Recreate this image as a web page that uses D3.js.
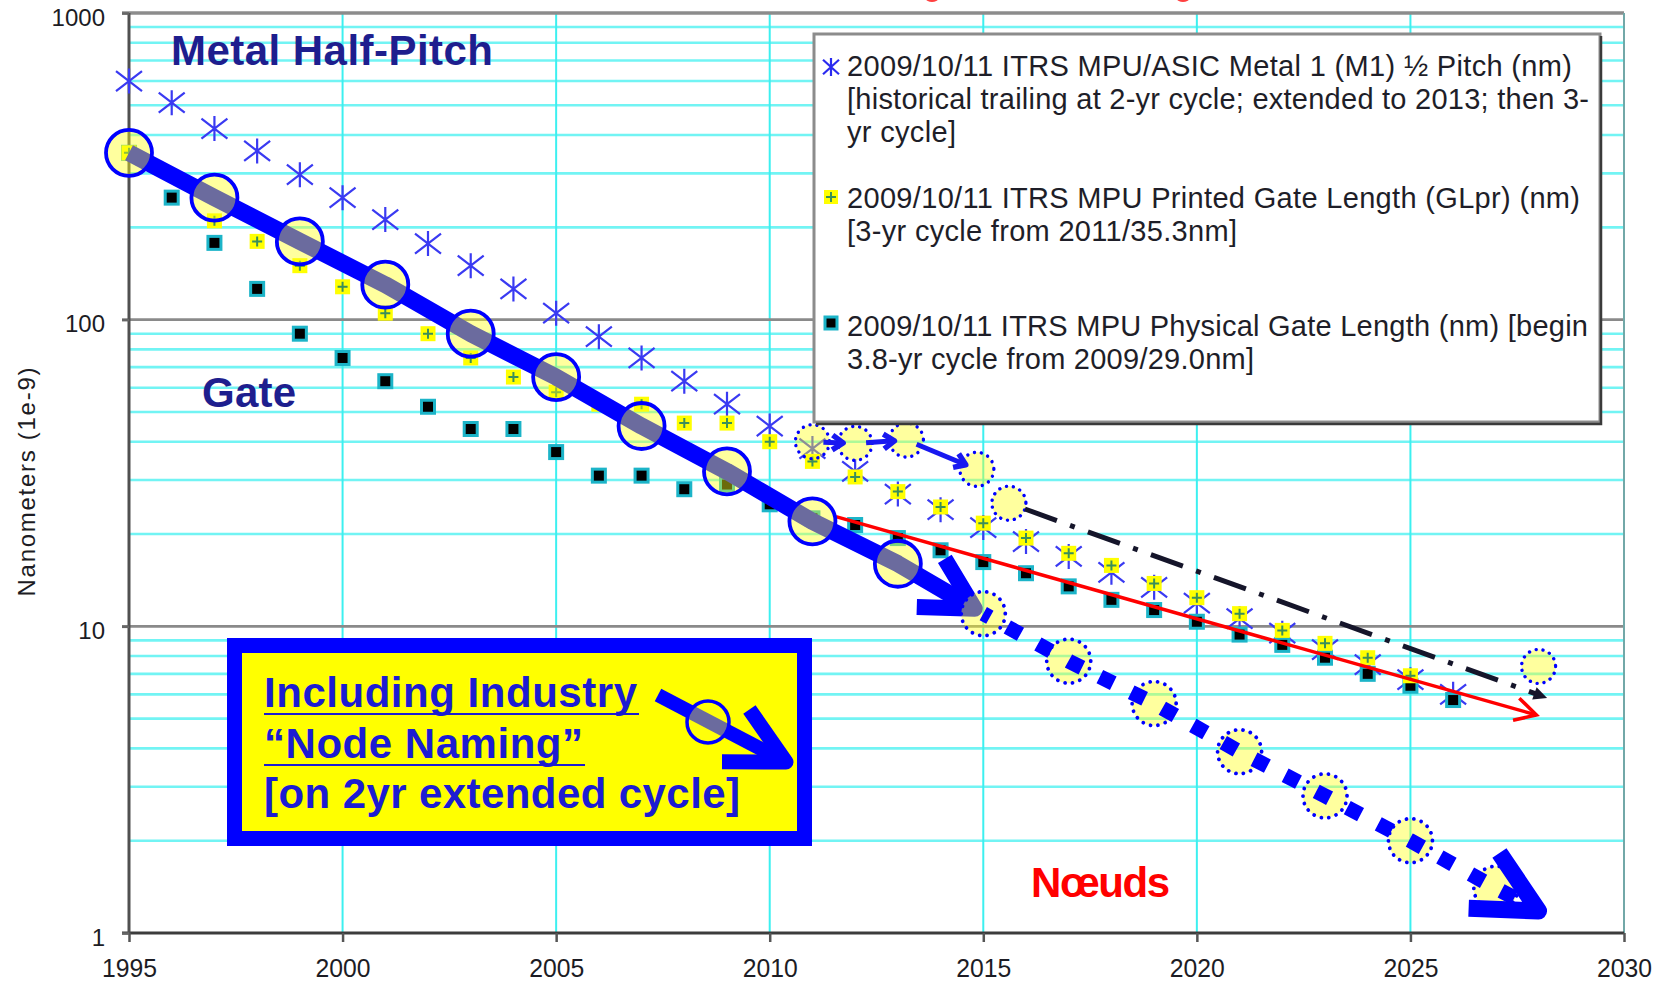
<!DOCTYPE html>
<html>
<head>
<meta charset="utf-8">
<script src="https://cdn.jsdelivr.net/npm/d3@7"></script>
<style>
  html, body { margin: 0; padding: 0; background: #ffffff; }
  svg { display: block; }
  text { font-family: "Liberation Sans", Arial, sans-serif; }
</style>
</head>
<body>
<svg id="chart" width="1661" height="984"></svg>
<script>
// ---------- axis ticks ----------
const yearTicks = [1995, 2000, 2005, 2010, 2015, 2020, 2025, 2030];
const valueTicks = [1, 10, 100, 1000];
const valueTickLabels = ["1", "10", "100", "1000"];

// ---------- ITRS MPU/ASIC Metal 1 half pitch (nm) ----------
const m1Years = [1995, 1996, 1997, 1998, 1999, 2000, 2001, 2002, 2003, 2004, 2005, 2006, 2007, 2008, 2009, 2010,
                 2011, 2012, 2013, 2014, 2015, 2016, 2017, 2018, 2019, 2020, 2021, 2022, 2023, 2024, 2025, 2026];
const m1HalfPitch = [600, 510, 420, 355, 297, 250, 212, 177, 150, 126, 105, 88, 75, 63, 53, 45,
                     38, 32, 27, 24, 21, 18.9, 16.9, 15, 13.4, 11.9, 10.6, 9.5, 8.4, 7.5, 6.7, 6.0];

// ---------- ITRS MPU printed gate length (nm) ----------
const printedYears = [1995, 1997, 1998, 1999, 2000, 2001, 2002, 2003, 2004, 2005, 2006, 2007, 2008, 2009, 2010,
                      2011, 2012, 2013, 2014, 2015, 2016, 2017, 2018, 2019, 2020, 2021, 2022, 2023, 2024, 2025];
const printedGate = [350, 210, 180, 150, 128, 105, 90, 75, 65, 58, 53, 53, 46, 46, 40,
                     34.5, 30.7, 27.5, 24.5, 21.7, 19.4, 17.3, 15.8, 13.8, 12.4, 11.0, 9.7, 8.8, 7.9, 6.9];

// ---------- ITRS MPU physical gate length (nm) ----------
const physYears = [1995, 1996, 1997, 1998, 1999, 2000, 2001, 2002, 2003, 2004, 2005, 2006, 2007, 2008, 2009, 2010,
                   2011, 2012, 2013, 2014, 2015, 2016, 2017, 2018, 2019, 2020, 2021, 2022, 2023, 2024, 2025, 2026];
const physGate = [350, 250, 178, 126, 90, 75, 63, 52, 44, 44, 37, 31, 31, 28, 29, 25,
                  22.5, 21.4, 19.4, 17.7, 16.2, 14.9, 13.5, 12.2, 11.3, 10.35, 9.4, 8.7, 7.9, 7.0, 6.4, 5.75];

// ---------- industry "node naming" on a 2-year cycle ----------
const nodeYears = [1995, 1997, 1999, 2001, 2003, 2005, 2007, 2009, 2011, 2013];
const nodeValues = [350, 250, 180, 130, 90, 65, 45, 32, 22, 16];
const futureNodeYears = [2015, 2017, 2019, 2021, 2023, 2025, 2027];
const futureNodeValues = [11, 7.7, 5.6, 3.9, 2.8, 2.0, 1.4];
const futureArrowTip = [2028, 1.18];

// ---------- M1 pitch held at 2-yr cycle to 2013, then 3-yr cycle ----------
const extYears = [2011, 2012, 2013.2, 2014.85, 2015.6];
const extValues = [40, 39.5, 40.5, 32.5, 25.2];
const trendTip = [2028.2, 5.84];
const trendCircle = [2028, 7.4];

// ---------- gate-length trend arrow ----------
const redStart = [2011.55, 22.8];
const redEnd = [2027.95, 5.14];

// ---------- scales ----------
const svg = d3.select("#chart");
const x = d3.scaleLinear().domain([1995, 2030]).range([129, 1624]);
const y = d3.scaleLog().domain([1, 1000]).range([933, 13]);
const P = (yr, v) => [x(yr), y(v)];

const BLUE = "#0000ff";
const CIRCLE_FILL = "#ffff18";
const CIRCLE_OPACITY = 0.42;

function chevron(tip, theta, L, phi) {
  const a1 = [tip[0] - L * Math.cos(theta - phi), tip[1] - L * Math.sin(theta - phi)];
  const a2 = [tip[0] - L * Math.cos(theta + phi), tip[1] - L * Math.sin(theta + phi)];
  return `M${a1[0]},${a1[1]}L${tip[0]},${tip[1]}L${a2[0]},${a2[1]}`;
}
function asterisk(w, h) {
  return `M0,${-h}V${h}M${-w},${-h * 0.8}L${w},${h * 0.8}M${w},${-h * 0.8}L${-w},${h * 0.8}`;
}

// ---------- grid ----------
const grid = svg.append("g");
const minorValues = y.ticks().filter(v => !valueTicks.includes(v));
grid.selectAll("line.hminor").data(minorValues).join("line")
  .attr("x1", x(1995)).attr("x2", x(2030))
  .attr("y1", d => y(d)).attr("y2", d => y(d))
  .attr("stroke", "#72f4f4").attr("stroke-width", 2.6);
grid.selectAll("line.vgrid").data(yearTicks.slice(1, -1)).join("line")
  .attr("x1", d => x(d)).attr("x2", d => x(d))
  .attr("y1", y(1000)).attr("y2", y(1))
  .attr("stroke", "#3cf0f0").attr("stroke-width", 2);
grid.selectAll("line.hmajor").data([10, 100]).join("line")
  .attr("x1", x(1995) - 7).attr("x2", x(2030))
  .attr("y1", d => y(d)).attr("y2", d => y(d))
  .attr("stroke", "#8a8a8a").attr("stroke-width", 2.6);
// frame
grid.append("line").attr("x1", x(1995) - 7).attr("x2", x(2030)).attr("y1", y(1000)).attr("y2", y(1000))
  .attr("stroke", "#8c8c8c").attr("stroke-width", 3.5);
grid.append("line").attr("x1", x(2030)).attr("x2", x(2030)).attr("y1", y(1000)).attr("y2", y(1))
  .attr("stroke", "#72a8a8").attr("stroke-width", 2);

// ---------- axes ----------
const xAxis = svg.append("g").attr("transform", `translate(0,${y(1)})`)
  .call(d3.axisBottom(x).tickValues(yearTicks).tickSize(9).tickSizeOuter(0).tickFormat(d3.format("d")));
xAxis.select(".domain").attr("d", `M${x(1995) - 7},0H${x(2030)}`).attr("stroke", "#3c3c3c").attr("stroke-width", 3);
xAxis.selectAll(".tick line").attr("stroke", "#555").attr("stroke-width", 2.5);
xAxis.selectAll(".tick text").attr("y", 44).attr("dy", 0)
  .attr("font-size", 26).attr("fill", "#1c1c24")
  .attr("textLength", 55).attr("lengthAdjust", "spacingAndGlyphs");

const yAxis = svg.append("g").attr("transform", `translate(${x(1995)},0)`)
  .call(d3.axisLeft(y).tickValues(valueTicks).tickSize(7).tickSizeOuter(0)
    .tickFormat((d, i) => valueTickLabels[i]));
yAxis.select(".domain").attr("d", `M0,${y(1000)}V${y(1)}`).attr("stroke", "#505050").attr("stroke-width", 3);
yAxis.selectAll(".tick line").attr("stroke", "#666").attr("stroke-width", 2.5);
yAxis.selectAll(".tick text").attr("x", -24).attr("dy", "0.5em")
  .attr("font-size", 24).attr("fill", "#1c1c24");

svg.append("text")
  .attr("transform", `translate(35,482) rotate(-90)`)
  .attr("text-anchor", "middle").attr("font-size", 24).attr("fill", "#1c1c24")
  .attr("textLength", 229).text("Nanometers (1e-9)");

// ---------- ITRS markers ----------
const marks = svg.append("g");
marks.selectAll("path.m1").data(m1Years).join("path")
  .attr("transform", (d, i) => `translate(${x(d)},${y(m1HalfPitch[i])})`)
  .attr("d", asterisk(13, 12.5))
  .attr("fill", "none").attr("stroke", "#3a3af2").attr("stroke-width", 2.2);

const phys = marks.selectAll("g.phys").data(physYears).join("g")
  .attr("transform", (d, i) => `translate(${x(d)},${y(physGate[i])})`);
phys.append("rect").attr("x", -6.5).attr("y", -6.5).attr("width", 13).attr("height", 13)
  .attr("fill", "#000").attr("stroke", "#1cb4c8").attr("stroke-width", 3);

const printed = marks.selectAll("g.printed").data(printedYears).join("g")
  .attr("transform", (d, i) => `translate(${x(d)},${y(printedGate[i])})`);
printed.append("rect").attr("x", -7.5).attr("y", -7.5).attr("width", 15).attr("height", 15).attr("fill", "#ffff00");
printed.append("path").attr("d", "M-5,0H5M0,-5V5").attr("stroke", "#3a8f5a").attr("stroke-width", 2);

// ---------- red gate-length trend arrow ----------
{
  const a = P(...redStart), b = P(...redEnd);
  const th = Math.atan2(b[1] - a[1], b[0] - a[0]);
  svg.append("path").attr("d", `M${a[0]},${a[1]}L${b[0]},${b[1]}`)
    .attr("stroke", "#ff0000").attr("stroke-width", 3.5).attr("fill", "none");
  svg.append("path").attr("d", chevron(b, th, 24, 0.5))
    .attr("stroke", "#ff0000").attr("stroke-width", 3.5).attr("fill", "none").attr("stroke-linejoin", "miter");
}

// ---------- node naming: solid historical part ----------
const nodePts = nodeYears.map((d, i) => P(d, nodeValues[i]));
const futPts = futureNodeYears.map((d, i) => P(d, futureNodeValues[i]));
const lastNode = nodePts[nodePts.length - 1], firstFuture = futPts[0];
const solidTip = [lastNode[0] + 0.9 * (firstFuture[0] - lastNode[0]), lastNode[1] + 0.9 * (firstFuture[1] - lastNode[1])];
const solidTheta = Math.atan2(firstFuture[1] - lastNode[1], firstFuture[0] - lastNode[0]);
const line = d3.line();

svg.append("path").attr("d", line([...nodePts, solidTip]))
  .attr("stroke", BLUE).attr("stroke-width", 17).attr("fill", "none").attr("stroke-linejoin", "round");
svg.append("path").attr("d", chevron(solidTip, solidTheta, 58, 0.5))
  .attr("stroke", BLUE).attr("stroke-width", 16).attr("fill", "none")
  .attr("stroke-linejoin", "round").attr("stroke-linecap", "butt");
svg.selectAll("circle.node").data(nodePts).join("circle")
  .attr("cx", d => d[0]).attr("cy", d => d[1]).attr("r", 23)
  .attr("fill", CIRCLE_FILL).attr("fill-opacity", CIRCLE_OPACITY)
  .attr("stroke", BLUE).attr("stroke-width", 3.8);

// ---------- node naming: projected part ----------
svg.selectAll("circle.future").data(futPts).join("circle")
  .attr("cx", d => d[0]).attr("cy", d => d[1]).attr("r", 22)
  .attr("fill", CIRCLE_FILL).attr("fill-opacity", CIRCLE_OPACITY)
  .attr("stroke", BLUE).attr("stroke-width", 3.8)
  .attr("stroke-dasharray", "0.01 7.6").attr("stroke-linecap", "round");
const endTip = P(...futureArrowTip);
const lastFut = futPts[futPts.length - 1], prevFut = futPts[futPts.length - 2];
const endTheta = Math.atan2(lastFut[1] - prevFut[1], lastFut[0] - prevFut[0]);
const endShaft = [endTip[0] - 16 * Math.cos(endTheta), endTip[1] - 16 * Math.sin(endTheta)];
svg.append("path").attr("d", line([...futPts, endShaft]))
  .attr("stroke", BLUE).attr("stroke-width", 15).attr("fill", "none")
  .attr("stroke-dasharray", "15 20").attr("stroke-dashoffset", 7.5);
svg.append("path").attr("d", chevron(endTip, endTheta, 70, 0.47))
  .attr("stroke", BLUE).attr("stroke-width", 17).attr("fill", "none")
  .attr("stroke-linejoin", "round").attr("stroke-linecap", "butt");

// ---------- M1 pitch extension circles and trend ----------
const extPts = extYears.map((d, i) => P(d, extValues[i]));
const dotted = sel => sel.attr("fill", CIRCLE_FILL).attr("fill-opacity", CIRCLE_OPACITY)
  .attr("stroke", BLUE).attr("stroke-width", 3.4)
  .attr("stroke-dasharray", "0.01 7").attr("stroke-linecap", "round");
svg.selectAll("circle.ext").data(extPts).join("circle")
  .attr("cx", d => d[0]).attr("cy", d => d[1]).attr("r", 17).call(dotted);
for (let i = 0; i < 3; i++) {
  const a = extPts[i], b = extPts[i + 1];
  const th = Math.atan2(b[1] - a[1], b[0] - a[0]);
  const s = [a[0] + 11 * Math.cos(th), a[1] + 11 * Math.sin(th)];
  const t = [b[0] - 12 * Math.cos(th), b[1] - 12 * Math.sin(th)];
  svg.append("path").attr("d", `M${s[0]},${s[1]}L${t[0]},${t[1]}`)
    .attr("stroke", "#1818f0").attr("stroke-width", 5).attr("fill", "none");
  svg.append("path").attr("d", chevron(t, th, 13, 0.6))
    .attr("stroke", "#1818f0").attr("stroke-width", 5.5).attr("fill", "none").attr("stroke-linejoin", "round");
}
{
  const c = extPts[4], tip = P(...trendTip);
  const th = Math.atan2(tip[1] - c[1], tip[0] - c[0]);
  const s = [c[0] + 17 * Math.cos(th), c[1] + 17 * Math.sin(th)];
  const t = [tip[0] - 12 * Math.cos(th), tip[1] - 12 * Math.sin(th)];
  const tc = P(...trendCircle);
  svg.append("circle").attr("cx", tc[0]).attr("cy", tc[1]).attr("r", 17).call(dotted);
  svg.append("path").attr("d", `M${s[0]},${s[1]}L${t[0]},${t[1]}`)
    .attr("stroke", "#15152a").attr("stroke-width", 5).attr("fill", "none")
    .attr("stroke-dasharray", "34 14 5 14");
  const w = 0.45, L = 15;
  svg.append("path")
    .attr("d", `M${tip[0]},${tip[1]}L${tip[0] - L * Math.cos(th - w)},${tip[1] - L * Math.sin(th - w)}L${tip[0] - L * Math.cos(th + w)},${tip[1] - L * Math.sin(th + w)}Z`)
    .attr("fill", "#15152a");
}

// ---------- headline tails above the frame ----------
svg.append("ellipse").attr("cx", 932).attr("cy", -1).attr("rx", 6).attr("ry", 3).attr("fill", "#ff4040");
svg.append("ellipse").attr("cx", 1183).attr("cy", -1).attr("rx", 6).attr("ry", 3).attr("fill", "#ff4040");

// ---------- legend ----------
const legend = svg.append("g");
legend.append("rect").attr("x", 814).attr("y", 34).attr("width", 786).attr("height", 388)
  .attr("fill", "#ffffff").attr("stroke", "#8c8c8c").attr("stroke-width", 3);
legend.append("path").attr("d", "M1601,36V424H816").attr("stroke", "#3a3a3a").attr("stroke-width", 2.5).attr("fill", "none");
legend.append("path").attr("transform", "translate(831,67)").attr("d", asterisk(8, 9))
  .attr("stroke", "#2a2af0").attr("stroke-width", 2.2).attr("fill", "none");
const lg2 = legend.append("g").attr("transform", "translate(831,197)");
lg2.append("rect").attr("x", -7).attr("y", -7).attr("width", 14).attr("height", 14).attr("fill", "#ffff00");
lg2.append("path").attr("d", "M-5,0H5M0,-5V5").attr("stroke", "#3a8f5a").attr("stroke-width", 2);
legend.append("rect").attr("x", 831 - 6).attr("y", 323 - 6).attr("width", 12).attr("height", 12)
  .attr("fill", "#000").attr("stroke", "#1cb4c8").attr("stroke-width", 3);

const legendLines = [
  ["2009/10/11 ITRS MPU/ASIC Metal 1 (M1) \u00BD Pitch (nm)", 76, 725],
  ["[historical trailing at 2-yr cycle; extended to 2013; then 3-", 109, 742],
  ["yr cycle]", 142, 109],
  ["2009/10/11 ITRS MPU Printed Gate Length (GLpr) (nm)", 208, 733],
  ["[3-yr cycle from 2011/35.3nm]", 241, 390],
  ["2009/10/11 ITRS MPU Physical Gate Length (nm) [begin", 336, 741],
  ["3.8-yr cycle from 2009/29.0nm]", 369, 407]
];
legend.selectAll("text").data(legendLines).join("text")
  .attr("x", 847).attr("y", d => d[1]).attr("textLength", d => d[2])
  .attr("font-size", 29).attr("fill", "#1e1e28").text(d => d[0]);

// ---------- annotations ----------
svg.append("text").attr("x", 171).attr("y", 65).attr("font-size", 42).attr("font-weight", "bold")
  .attr("fill", "#1e1e8e").attr("textLength", 322).text("Metal Half-Pitch");
svg.append("text").attr("x", 202).attr("y", 407).attr("font-size", 42).attr("font-weight", "bold")
  .attr("fill", "#1e1e8e").attr("textLength", 94).text("Gate");
svg.append("text").attr("x", 1031).attr("y", 897).attr("font-size", 42).attr("font-weight", "bold")
  .attr("font-family", "Lato, 'Open Sans', sans-serif")
  .attr("fill", "#ff0000").attr("textLength", 139).text("N\u0153uds");

// boxed note
const box = svg.append("g");
box.append("rect").attr("x", 234.5).attr("y", 645.5).attr("width", 570).attr("height", 193)
  .attr("fill", "#ffff00").attr("stroke", BLUE).attr("stroke-width", 15);
const noteLines = [
  ["Including Industry", 707, 373, 714],
  ["\u201CNode Naming\u201D", 758, 319, 765],
  ["[on 2yr extended cycle]", 808, 476, null]
];
box.selectAll("text").data(noteLines).join("text")
  .attr("x", 264).attr("y", d => d[1]).attr("textLength", d => d[2])
  .attr("font-size", 42).attr("font-weight", "bold").attr("fill", "#1c1cd2").text(d => d[0]);
box.selectAll("line.ul").data(noteLines.filter(d => d[3] !== null)).join("line")
  .attr("x1", 264).attr("x2", d => 264 + d[2] + 2).attr("y1", d => d[3]).attr("y2", d => d[3])
  .attr("stroke", "#1c1cd2").attr("stroke-width", 2.2);
// small glyph of the node arrow inside the note
{
  const s = [658, 695], c = [708, 722], tip = [786, 762];
  const th = Math.atan2(tip[1] - s[1], tip[0] - s[0]);
  box.append("path").attr("d", `M${s[0]},${s[1]}L${tip[0] - 10 * Math.cos(th)},${tip[1] - 10 * Math.sin(th)}`)
    .attr("stroke", BLUE).attr("stroke-width", 14).attr("fill", "none");
  box.append("path").attr("d", chevron(tip, th, 64, 0.48))
    .attr("stroke", BLUE).attr("stroke-width", 15).attr("fill", "none").attr("stroke-linejoin", "round");
  box.append("circle").attr("cx", c[0]).attr("cy", c[1]).attr("r", 21)
    .attr("fill", CIRCLE_FILL).attr("fill-opacity", CIRCLE_OPACITY)
    .attr("stroke", BLUE).attr("stroke-width", 3.5);
}
</script>
</body>
</html>
